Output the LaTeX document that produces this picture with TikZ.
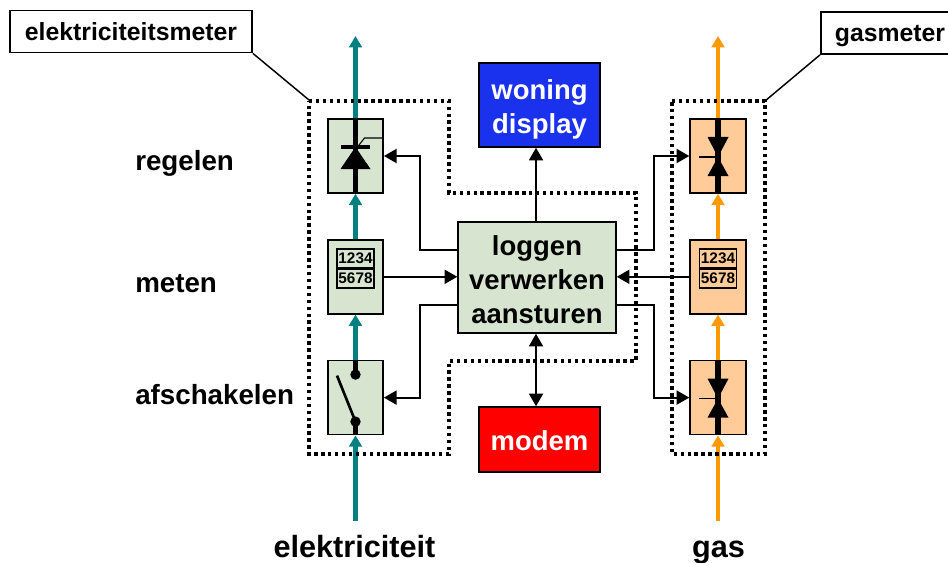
\documentclass[tikz,border=0pt]{standalone}
\usepackage{fontspec}
\setmainfont{Liberation Sans}
\usepackage{tikz}
\usetikzlibrary{arrows.meta,positioning,calc}

\definecolor{blokgroen}{HTML}{D7E4CF}
\definecolor{blokoranje}{HTML}{FFCC99}
\definecolor{elekkleur}{HTML}{008080}
\definecolor{gaskleur}{HTML}{FF9900}
\definecolor{displayblauw}{HTML}{1A31EE}

\tikzset{
    elekblok/.style={rectangle, draw, line width=1.1pt, fill=blokgroen, minimum width=41.5pt, minimum height=55.5pt, inner sep=0pt},
    gasblok/.style={elekblok, fill=blokoranje, minimum width=42pt},
    hoofdblok/.style={rectangle, draw, line width=1.1pt, align=center, font=\bfseries\fontsize{20.6}{25.4}\selectfont, inner sep=0pt},
    kader/.style={rectangle, draw, line width=1.3pt, fill=white, inner sep=0pt, text height=13.5pt, text depth=0pt, font=\bfseries\fontsize{18.6}{22}\selectfont},
    kant/.style={anchor=base west, inner sep=0pt, font=\bfseries\fontsize{20.8}{25}\selectfont},
    onder/.style={anchor=base, inner sep=0pt, font=\bfseries\fontsize{23}{28}\selectfont},
    teller/.style={rectangle, draw, line width=1.1pt, minimum width=27.5pt, minimum height=14pt, inner sep=0pt, font=\bfseries\fontsize{11.5}{13}\selectfont},
    elekstroom/.style={draw=elekkleur, line width=3.2pt, -{Triangle[length=8.5pt,width=9.5pt,fill=elekkleur]}},
    gasstroom/.style={draw=gaskleur, line width=3.2pt, -{Triangle[length=8.5pt,width=9.5pt,fill=gaskleur]}},
    stuur/.style={draw, line width=1.4pt, -{Triangle[length=9.5pt,width=10.5pt]}},
    grens/.style={draw, line width=2.6pt, dash pattern=on 2.6pt off 2.6pt},
    kern/.style={draw, line width=4pt},
    dun/.style={draw, line width=.8pt}
}

\begin{document}
\begin{tikzpicture}[x=0.75pt, y=-0.75pt, node distance=90.6pt, auto]
    \useasboundingbox (0,0) rectangle (948,563);

    % Elektriciteit
    \node[elekblok] (thyristor) at (355.5,156) {};
    \node[elekblok, below of=thyristor] (elekmeter) {};
    \node[elekblok, below of=elekmeter] (schakelaar) {};

    % Gas
    \node[gasblok] (gasklep) at (718,156) {};
    \node[gasblok, below of=gasklep] (gasteller) {};
    \node[gasblok, below of=gasteller] (gasafsluiter) {};

    % Midden
    \node[hoofdblok, fill=blokgroen, minimum width=118.5pt, minimum height=83.25pt] (hub) at (537,277.5) {\rule{0pt}{18pt}loggen\\verwerken\\aansturen};
    \node[hoofdblok, fill=displayblauw, text=white, minimum width=91pt, minimum height=63pt] (woning) at (539.5,105) {\rule{0pt}{22pt}woning\\display};
    \node[hoofdblok, fill=red, text=white, minimum width=91pt, minimum height=48.75pt] (modem) at (539.5,439.5) {\rule{0pt}{16.5pt}modem};

    % Teksten
    \node[kant] (regelen) at (135,171) {regelen};
    \node[kant] (meten) at (135,292) {meten};
    \node[kant] (afschakelen) at (135,404) {afschakelen};
    \node[onder] (elektriciteit) at (354.5,557) {elektriciteit};
    \node[onder] (gas) at (718.5,557) {gas};
    \node[kader, minimum width=181.5pt, minimum height=31.5pt] (elekkader) at (131,31.5) {elektriciteitsmeter};
    \node[kader, anchor=west, minimum width=102pt, minimum height=31.5pt, text width=102pt] (gaskader) at (820,33) {\hspace*{10.5pt}gasmeter};

    % Teller standen
    \node[teller] (stand1) at (355.5,258.5) {1234};
    \node[teller, below=0pt of stand1] (stand2) {5678};
    \node[teller] (gasstand1) at (718,258.5) {1234};
    \node[teller, below=0pt of gasstand1] (gasstand2) {5678};

    % Vrije einden
    \coordinate (elekin) at (355.5,521);
    \coordinate (elekuit) at (355.5,36);
    \coordinate (gasin) at (718,521);
    \coordinate (gasuit) at (718,36);

    % Stromen
    \draw[elekstroom] (elekin) -- (schakelaar.south);
    \draw[elekstroom] (schakelaar.north) -- (elekmeter.south);
    \draw[elekstroom] (elekmeter.north) -- (thyristor.south);
    \draw[elekstroom] (thyristor.north) -- (elekuit);
    \draw[gasstroom] (gasin) -- (gasafsluiter.south);
    \draw[gasstroom] (gasafsluiter.north) -- (gasteller.south);
    \draw[gasstroom] (gasteller.north) -- (gasklep.south);
    \draw[gasstroom] (gasklep.north) -- (gasuit);

    % Thyristor
    \draw[kern] (thyristor.north) -- (thyristor.south);
    \fill ($(thyristor)+(-15,13)$) -- ($(thyristor)+(15,13)$) -- ($(thyristor)+(0,-9)$) -- cycle;
    \draw[line width=2.4pt] ($(thyristor)+(-14.5,-9)$) -- ($(thyristor)+(14.5,-9)$);
    \draw[dun] ($(thyristor)+(2,-9)$) -- ($(thyristor)+(9,-18)$) -- (thyristor.east |- {$(thyristor)+(0,-18)$});

    % Schakelaar
    \draw[kern] (schakelaar.north) -- ($(schakelaar)+(0,-23)$);
    \draw[kern] ($(schakelaar)+(0,24)$) -- (schakelaar.south);
    \fill ($(schakelaar)+(0,-23)$) circle (3.9pt);
    \fill ($(schakelaar)+(0,24)$) circle (3.9pt);
    \draw[line width=2pt] ($(schakelaar)+(-18.5,-22)$) -- ($(schakelaar)+(0,24)$);

    % Gaskleppen
    \foreach \klep in {gasklep,gasafsluiter} {
        \draw[kern] (\klep.north) -- (\klep.south);
        \fill ($(\klep)+(-10.5,-19)$) -- ($(\klep)+(10.5,-19)$) -- ($(\klep)+(0,1)$) -- ($(\klep)+(10.5,20)$) -- ($(\klep)+(-10.5,20)$) -- ($(\klep)+(0,1)$) -- cycle;
        \draw[dun] ($(\klep)+(-19,1)$) -- ($(\klep)+(0,1)$);
    }

    % Grenzen
    \draw[grens] (309,101) -- (449,101) -- (449,193) -- (636,193) -- (636,361) -- (449,361) -- (449,454) -- (309,454) -- cycle;
    \draw[grens] (672,101) -- (765,101) -- (765,454) -- (672,454) -- cycle;
    \draw[line width=1.1pt] (elekkader.south east) -- (309,100);
    \draw[line width=1.1pt] (gaskader.south west) -- (765,101);

    % Aansturing
    \draw[stuur] ([yshift=20.6pt]hub.west) -- ++(-37,0) |- (thyristor.east);
    \draw[stuur] (elekmeter.east) -- (elekmeter.east -| hub.west);
    \draw[stuur] ([yshift=-20.6pt]hub.west) -- ++(-37,0) |- (schakelaar.east);
    \draw[stuur] ([yshift=20.6pt]hub.east) -- ++(37,0) |- (gasklep.west);
    \draw[stuur] (gasteller.west) -- (gasteller.west -| hub.east);
    \draw[stuur] ([yshift=-20.6pt]hub.east) -- ++(37,0) |- (gasafsluiter.west);
    \draw[stuur] ([xshift=-.75pt]hub.north) -- ([xshift=-2.6pt]woning.south);
    \draw[stuur, {Triangle[length=9.5pt,width=10.5pt]}-{Triangle[length=9.5pt,width=10.5pt]}] ([xshift=-.75pt]hub.south) -- ([xshift=-2.6pt]modem.north);
\end{tikzpicture}
\end{document}
